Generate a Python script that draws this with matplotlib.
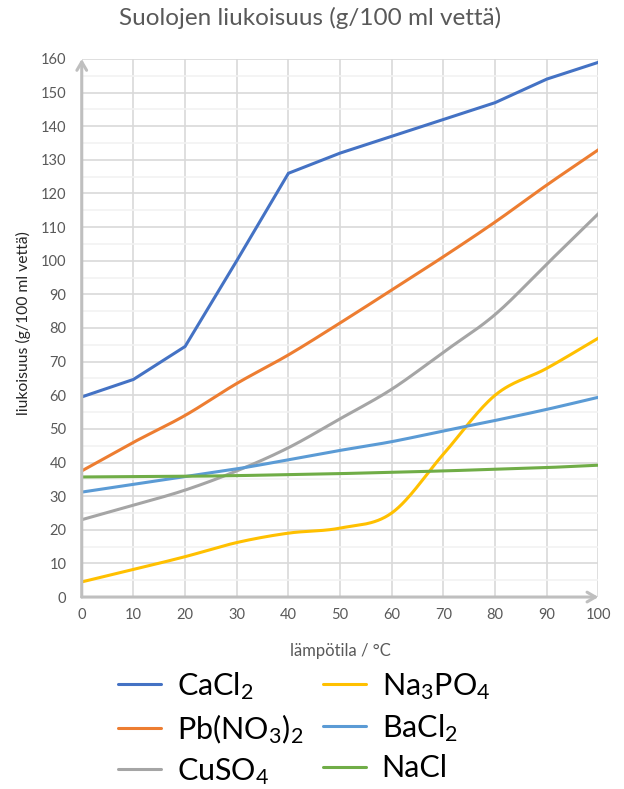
import numpy as np
import matplotlib
matplotlib.use("Agg")
import matplotlib.pyplot as plt
from matplotlib.ticker import MultipleLocator

plt.rcParams["font.family"] = ["Lato", "DejaVu Sans"]
plt.rcParams["mathtext.default"] = "regular"

# Temperature (°C) and solubility (g / 100 ml water)
temperature = [0, 10, 20, 30, 40, 50, 60, 70, 80, 90, 100]
cacl2 = [59.5, 64.7, 74.5, 100, 126, 132, 137, 142, 147, 154, 159]
pbno32 = [37.5, 46, 54, 63.5, 72, 81.5, 91.3, 101.2, 111.5, 122.5, 133]
cuso4 = [23, 27.3, 31.8, 37.5, 44.4, 53, 61.8, 72.8, 84, 99, 114]
na3po4 = [4.5, 8.2, 12, 16.2, 19, 20.5, 25, 42.5, 60, 68, 77]
bacl2 = [31.2, 33.5, 35.8, 38.1, 40.8, 43.6, 46.2, 49.4, 52.5, 55.8, 59.4]
nacl = [35.7, 35.8, 35.9, 36.1, 36.4, 36.7, 37.1, 37.5, 38.0, 38.5, 39.2]

series_labels = [r"CaCl$_2$", r"Pb(NO$_3$)$_2$", r"CuSO$_4$",
                 r"Na$_3$PO$_4$", r"BaCl$_2$", "NaCl"]
series_values = [cacl2, pbno32, cuso4, na3po4, bacl2, nacl]
series_colors = ["#4472C4", "#ED7D31", "#A5A5A5", "#FFC000", "#5B9BD5", "#70AD47"]
series_smoothed = [False, True, True, True, True, True]

title = "Suolojen liukoisuus (g/100 ml vettä)"
xlabel = "lämpötila / °C"
ylabel = "liukoisuus (g/100 ml vettä)"


def smooth_curve(x, y, steps=30):
    """Catmull-Rom style smoothing through every data point."""
    x = np.asarray(x, float)
    y = np.asarray(y, float)
    px = np.concatenate([[2 * x[0] - x[1]], x, [2 * x[-1] - x[-2]]])
    py = np.concatenate([[2 * y[0] - y[1]], y, [2 * y[-1] - y[-2]]])
    xs, ys = [], []
    t = np.linspace(0, 1, steps, endpoint=False)
    for i in range(1, len(px) - 2):
        p0x, p1x, p2x, p3x = px[i - 1:i + 3]
        p0y, p1y, p2y, p3y = py[i - 1:i + 3]
        c1x, c1y = p1x + (p2x - p0x) / 6, p1y + (p2y - p0y) / 6
        c2x, c2y = p2x - (p3x - p1x) / 6, p2y - (p3y - p1y) / 6
        b0, b1, b2, b3 = (1 - t) ** 3, 3 * t * (1 - t) ** 2, 3 * t ** 2 * (1 - t), t ** 3
        xs.append(b0 * p1x + b1 * c1x + b2 * c2x + b3 * p2x)
        ys.append(b0 * p1y + b1 * c1y + b2 * c2y + b3 * p2y)
    xs.append([x[-1]])
    ys.append([y[-1]])
    return np.concatenate(xs), np.concatenate(ys)


fig = plt.figure(figsize=(6.24, 7.89), dpi=100)
ax = fig.add_axes([0.131, 0.2433, 0.828, 0.682])

for label, vals, col, smooth in zip(series_labels, series_values, series_colors,
                                    series_smoothed):
    if smooth:
        sx, sy = smooth_curve(temperature, vals)
    else:
        sx, sy = temperature, vals
    ax.plot(sx, sy, color=col, lw=2.2, label=label, solid_capstyle="round",
            solid_joinstyle="miter", zorder=3)

ax.set_xlim(0, 100)
ax.set_ylim(0, 160)
ax.xaxis.set_major_locator(MultipleLocator(10))
ax.yaxis.set_major_locator(MultipleLocator(10))
ax.yaxis.set_minor_locator(MultipleLocator(5))
ax.grid(which="major", color="#D9D9D9", lw=1.2, zorder=0)
ax.grid(which="minor", axis="y", color="#F2F2F2", lw=1.2, zorder=0)
ax.tick_params(which="both", length=0, labelsize=10.5, labelcolor="#595959")
ax.tick_params(axis="y", pad=11)
ax.tick_params(axis="x", pad=8)
for s in ax.spines.values():
    s.set_visible(False)

# axis lines with open arrowheads
arrow = dict(arrowstyle="->,head_length=0.6,head_width=0.35", color="#BFBFBF", lw=2.2,
             shrinkA=0, shrinkB=0)
ax.annotate("", xy=(0, 1.0), xytext=(0, 0), xycoords="axes fraction",
            arrowprops=arrow, annotation_clip=False, zorder=4)
ax.annotate("", xy=(1.0, 0), xytext=(0, 0), xycoords="axes fraction",
            arrowprops=arrow, annotation_clip=False, zorder=4)

fig.text(0.497, 0.977, title, ha="center", va="center", fontsize=17.5, color="#595959")
fig.text(0.545, 1 - 651 / 789, xlabel, ha="center", va="center", fontsize=12,
         color="#595959")
fig.text(23 / 624, 1 - 323 / 789, ylabel, ha="center", va="center", rotation=90,
         fontsize=11.3, color="#262626")

fig.legend(loc="upper left", bbox_to_anchor=(0.189, 0.151), ncol=2, frameon=False,
           fontsize=22, handlelength=1.4, handletextpad=0.52, columnspacing=0.65,
           labelspacing=0.34, borderaxespad=0, borderpad=0)

fig.savefig("out.png", dpi=100)
